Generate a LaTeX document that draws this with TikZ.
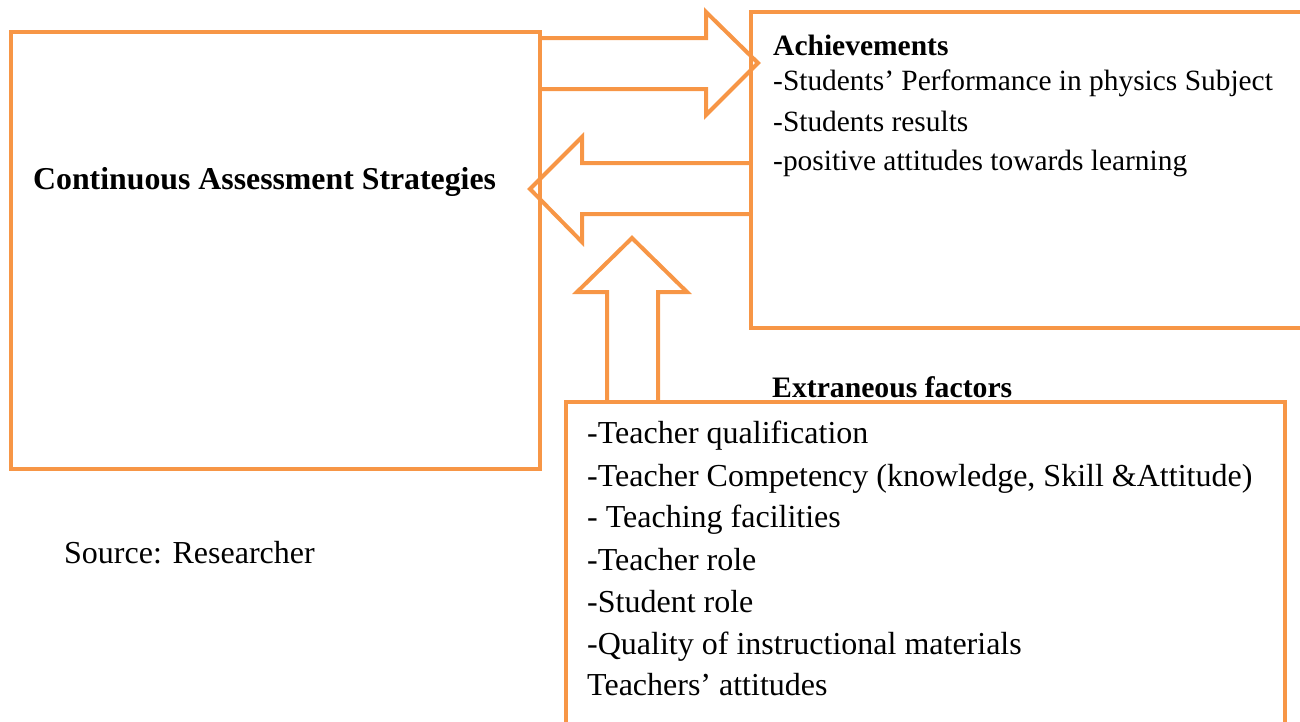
\documentclass[tikz,border=0pt]{standalone}
\usepackage{fontspec}
\setmainfont{Liberation Serif}
\definecolor{acc}{HTML}{F79646}
\begin{document}
\begin{tikzpicture}[x=1pt,y=-1pt,
  frame/.style={draw=acc,line width=4pt},
  barrow/.style={draw=acc,line width=4pt,line join=miter},
  toptxt/.style={anchor=base west,inner sep=0pt,font=\fontsize{29.4}{35}\selectfont},
  bottxt/.style={anchor=base west,inner sep=0pt,font=\fontsize{32}{38}\selectfont},
  headtxt/.style={anchor=base west,inner sep=0pt,font=\fontsize{29.5}{35}\selectfont\bfseries}]
\useasboundingbox (0,0) rectangle (1300,721);
\clip (0,0) rectangle (1300,721);
% boxes
\node[frame,anchor=north west,inner sep=0pt,minimum width=529pt,minimum height=437pt] (cas) at (9,30) {};
\draw[frame] (1310,12) coordinate (rbt) -- (751,12) coordinate (rb) -- (751,328) -- (1310,328);
\draw[frame] (566,730) -- (566,402) coordinate (bb) -- (1285,402) -- (1285,730);
% block arrows
\draw[barrow] (538,38) -- (706,38) -- (706,12) -- (758,63) -- (706,115) -- (706,89) -- (538,89);
\draw[barrow] (751,163) -- (582,163) -- (582,137) -- (530,189) -- (582,242) -- (582,214) -- (751,214);
\draw[barrow] (607,402) -- (607,292) -- (577,292) -- (632,238) -- (687,292) -- (658,292) -- (658,402);
% texts
\node[anchor=base west,inner sep=0pt,font=\fontsize{31.8}{38}\selectfont\bfseries] (cast) at (33,189) {Continuous Assessment Strategies};
\node[headtxt] (ach) at (773,55) {Achievements};
\node[toptxt] (a1) at (773,90) {-Students’ Performance in physics Subject};
\node[toptxt] (a2) at (773,131) {-Students results};
\node[toptxt] (a3) at (773,170) {-positive attitudes towards learning};
\node[headtxt,font=\fontsize{29.7}{35}\selectfont\bfseries] (ext) at (772,397) {Extraneous factors};
\node[bottxt] (e1) at (587,443) {-Teacher qualification};
\node[bottxt] (e2) at (587,486) {-Teacher Competency (knowledge, Skill \&Attitude)};
\node[bottxt] (e3) at (587,527) {- Teaching facilities};
\node[bottxt] (e4) at (587,570) {-Teacher role};
\node[bottxt] (e5) at (587,612) {-Student role};
\node[bottxt] (e6) at (587,654) {-Quality of instructional materials};
\node[bottxt] (e7) at (587,695) {Teachers’ attitudes};
\node[bottxt] (src) at (64,563) {Source: Researcher};
\end{tikzpicture}
\end{document}
